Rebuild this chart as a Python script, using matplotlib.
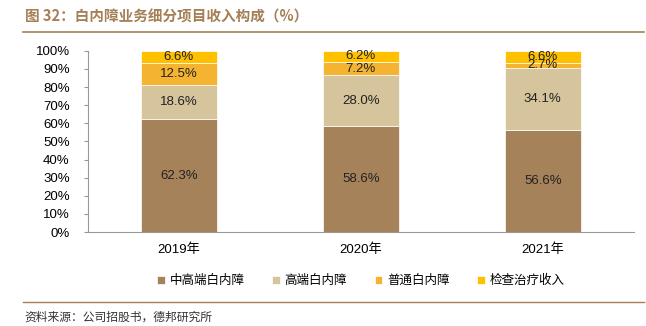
import matplotlib.pyplot as plt
import numpy as np

plt.rcParams['font.family'] = ['Liberation Sans', 'Noto Sans CJK SC', 'DejaVu Sans']

# data
years = ['2019年', '2020年', '2021年']
series_names = ['中高端白内障', '高端白内障', '普通白内障', '检查治疗收入']
mid_high = [62.3, 58.6, 56.6]
high = [18.6, 28.0, 34.1]
normal = [12.5, 7.2, 2.7]
exam = [6.6, 6.2, 6.6]
colors = ['#A6825A', '#D5C49C', '#F4B431', '#FFC000']

fig = plt.figure(figsize=(6.46, 3.26), dpi=100)
ax = fig.add_axes([0.136, 0.288, 0.845, 0.556])

x = np.arange(len(years))
bottom = np.zeros(len(years))
for name, vals, c in zip(series_names, [mid_high, high, normal, exam], colors):
    vals = np.array(vals)
    ax.bar(x, vals, 0.42, bottom=bottom, color=c, label=name, edgecolor='white', linewidth=0.5)
    for xi, b, v in zip(x, bottom, vals):
        ax.text(xi, b + v / 2, f'{v:.1f}%', ha='center', va='center', fontsize=9.5, color='#222222')
    bottom += vals

ax.set_xlim(-0.5, 2.5)
ax.set_ylim(0, 100)
ax.set_yticks(np.arange(0, 101, 10))
ax.set_yticklabels([f'{v}%' for v in range(0, 101, 10)], fontsize=9.5)
ax.set_xticks(x)
ax.set_xticklabels(years, fontsize=9.5, family=['Liberation Sans', 'Noto Sans CJK SC'])
ax.tick_params(axis='x', length=0, pad=8)
ax.tick_params(axis='y', length=3, color='#999999', pad=10)
for s in ['top', 'right']:
    ax.spines[s].set_visible(False)
ax.spines['left'].set_color('#999999')
ax.spines['bottom'].set_color('#999999')

ax.legend(loc='upper center', bbox_to_anchor=(0.5, -0.17), ncol=4, frameon=False,
          handlelength=0.6, handleheight=0.6, handletextpad=0.4, columnspacing=2.2,
          prop={'family': 'Noto Sans CJK SC', 'size': 9})

# title and source
fig.text(0.038, 0.948, '图 32：白内障业务细分项目收入构成（%）', fontsize=10.5, fontweight='bold',
         color='#A57F55', family=['Noto Sans CJK SC', 'DejaVu Sans'], va='center')
fig.add_artist(plt.Line2D([0.036, 0.997], [0.902, 0.902], color='#A57F55', linewidth=1.2))
fig.add_artist(plt.Line2D([0.036, 0.997], [0.074, 0.074], color='#A57F55', linewidth=1.0))
fig.text(0.038, 0.028, '资料来源：公司招股书，德邦研究所', fontsize=8.5, color='#333333',
         family=['Noto Sans CJK SC', 'DejaVu Sans'], va='center')

fig.savefig('out.png', dpi=100)
